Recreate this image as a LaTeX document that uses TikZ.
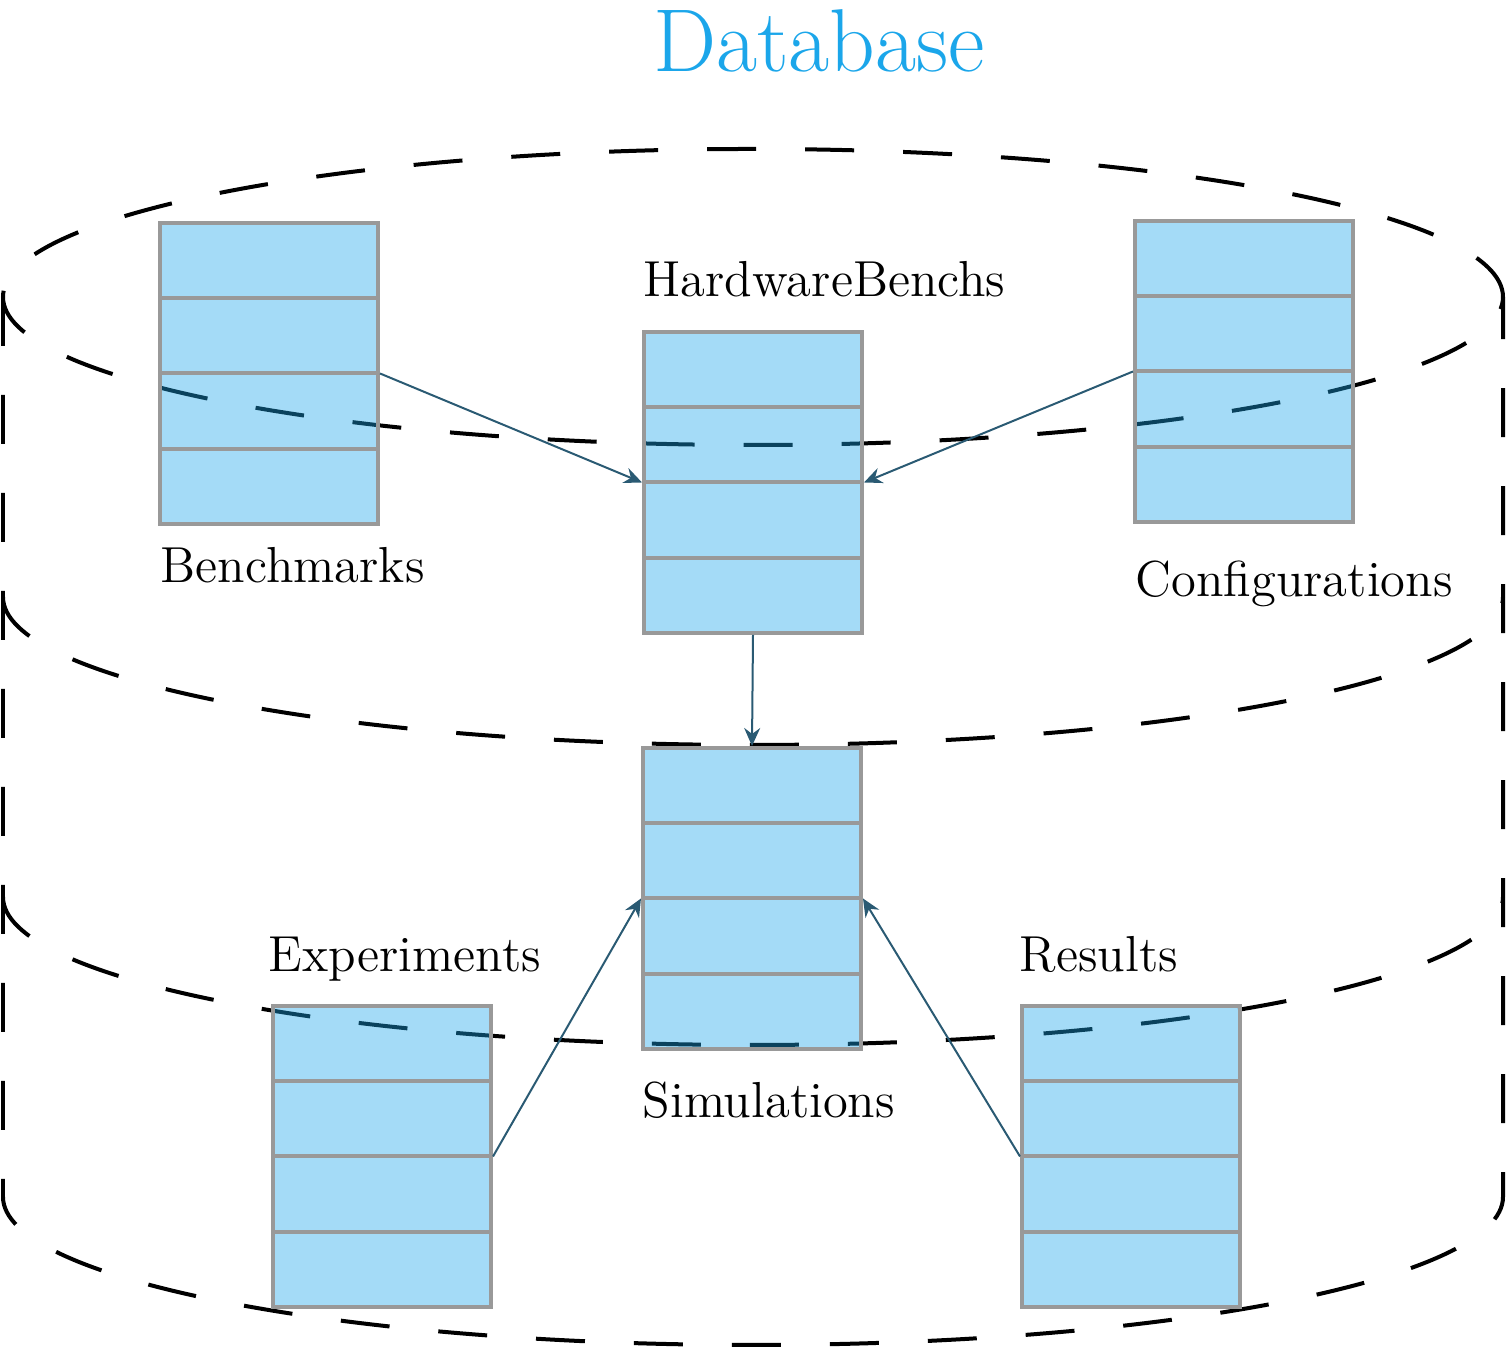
\documentclass[tikz,border=0pt]{standalone}
\usetikzlibrary{shapes.multipart,arrows.meta}
\definecolor{dbblue}{RGB}{27,166,234}
\definecolor{dbgray}{RGB}{153,153,153}
\definecolor{linkcol}{RGB}{42,90,115}
\tikzset{
  dbline/.style={line width=0.04cm,dash pattern=on 0.49cm off 0.49cm},
  dbtable/.style={rectangle split,rectangle split parts=4,draw=dbgray,line width=0.04cm,
    fill=dbblue,fill opacity=0.4,draw opacity=1,inner sep=0pt,minimum width=2.18cm,
    rectangle split empty part height=0.7125cm,rectangle split empty part depth=0pt},
  tablelabel/.style={anchor=base west,inner sep=0pt,font=\Large},
  link/.style={-{Stealth[length=1.8mm,width=1.6mm,inset=0.6mm]},draw=linkcol,line width=0.02cm}
}
\begin{document}
\begin{tikzpicture}
\useasboundingbox (0,0) rectangle (15.06,13.49);
\node[text=dbblue,anchor=base,font=\fontsize{25.4}{30}\selectfont] (title) at (8.19,12.77) {Database};
% cylinder
\draw[dbline] (7.53,10.52) ellipse [x radius=7.5,y radius=1.48];
\draw[dbline] (0.03,10.52) -- (0.03,1.52) arc[start angle=180,end angle=360,x radius=7.5,y radius=1.48] -- (15.03,10.52);
\foreach \y in {7.52,4.52}
  \draw[dbline] (0.03,\y) arc[start angle=180,end angle=360,x radius=7.5,y radius=1.48];
% tables
\foreach \n/\x/\y in {bench/2.69/9.755,hw/7.53/8.665,conf/12.44/9.775,sim/7.52/4.505,exp/3.82/1.925,res/11.31/1.925}
  \node[dbtable] (\n) at (\x,\y) {};
\foreach \n/\x/\y/\t in {benchlbl/1.60/7.66/Benchmarks,hwlbl/6.43/10.52/HardwareBenchs,conflbl/11.35/7.52/Configurations,
    simlbl/6.42/2.31/Simulations,explbl/2.68/3.77/Experiments,reslbl/10.19/3.77/Results}
  \node[tablelabel] (\n) at (\x,\y) {\t};
\draw[link] (bench.two split east) -- (hw.two split west);
\draw[link] (conf.two split west) -- (hw.two split east);
\draw[link] (hw.south) -- (sim.north);
\draw[link] (exp.two split east) -- (sim.two split west);
\draw[link] (res.two split west) -- (sim.two split east);
\end{tikzpicture}
\end{document}
